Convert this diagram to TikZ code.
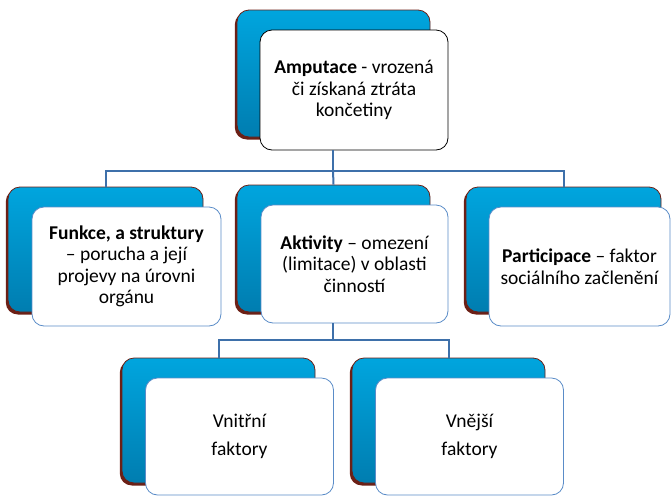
\documentclass[tikz,border=0pt]{standalone}
\usepackage{fontspec}
\setmainfont{Carlito}
\begin{document}
\begin{tikzpicture}[x=1pt,y=-1pt,
  back/.style={rounded corners=12pt, draw=maroonc, line width=0.8pt,
    top color=blueTop, bottom color=blueBot,
    preaction={fill=maroonc, transform canvas={shift={(-2.2pt,-2.5pt)}}, rounded corners=12pt}},
  front/.style={rounded corners=12pt, draw=frontc, line width=0.8pt, fill=white,
    align=center, font=\fontsize{19.5}{21.5}\selectfont, inner sep=2pt},
  conn/.style={draw=connc, line width=2pt}
]
\definecolor{blueTop}{RGB}{0,165,222}
\definecolor{blueBot}{RGB}{0,125,176}
\definecolor{maroonc}{RGB}{108,32,22}
\definecolor{frontc}{RGB}{90,140,200}
\definecolor{connc}{RGB}{62,112,170}
\useasboundingbox (0,0) rectangle (672,496);
% back boxes
\node[back, minimum width=193pt, minimum height=127pt] (btop) at (333.5,73.5) {};
\node[back, minimum width=195pt, minimum height=125pt] (bl) at (105.5,249.5) {};
\node[back, minimum width=193pt, minimum height=127pt] (bm) at (333.5,248.5) {};
\node[back, minimum width=195pt, minimum height=125pt] (br) at (563.5,249.5) {};
\node[back, minimum width=193pt, minimum height=125pt] (bbl) at (218.5,420.5) {};
\node[back, minimum width=193pt, minimum height=125pt] (bbr) at (448.5,420.5) {};
% front boxes
\node[front, draw=black, minimum width=188pt, minimum height=120pt] (top) at (354,90)
  {\textbf{Amputace} - vrozená\\či získaná ztráta\\končetiny};
\node[front, minimum width=189pt, minimum height=119pt] (fl) at (126.5,266.5)
  {\textbf{Funkce, a struktury}\\– porucha a její\\projevy na úrovni\\orgánu};
\node[front, minimum width=187pt, minimum height=118pt] (fm) at (354.5,264)
  {\textbf{Aktivity} – omezení\\(limitace) v oblasti\\činností};
\node[front, minimum width=181pt, minimum height=119pt] (fr) at (579.5,266.5)
  {\textbf{Participace} – faktor\\sociálního začlenění};
\node[front, minimum width=188pt, minimum height=117pt, font=\fontsize{19.5}{28}\selectfont] (fbl) at (239.5,436.5)
  {Vnitřní\\faktory};
\node[front, minimum width=188pt, minimum height=117pt, font=\fontsize{19.5}{28}\selectfont] (fbr) at (469.5,436.5)
  {Vnější\\faktory};
% connectors
\coordinate (bus1) at (333,170.5);
\coordinate (bus2) at (333,340);
\draw[conn] (top.south -| bus1) -- (bus1);
\draw[conn] (bus1) -| (bl.north);
\draw[conn] (bus1) -| (br.north);
\draw[conn] (bus1) -- (bm.north);
\draw[conn] (fm.south -| bus2) -- (bus2);
\draw[conn] (bus2) -| (bbl.north);
\draw[conn] (bus2) -| (bbr.north);
\end{tikzpicture}
\end{document}
